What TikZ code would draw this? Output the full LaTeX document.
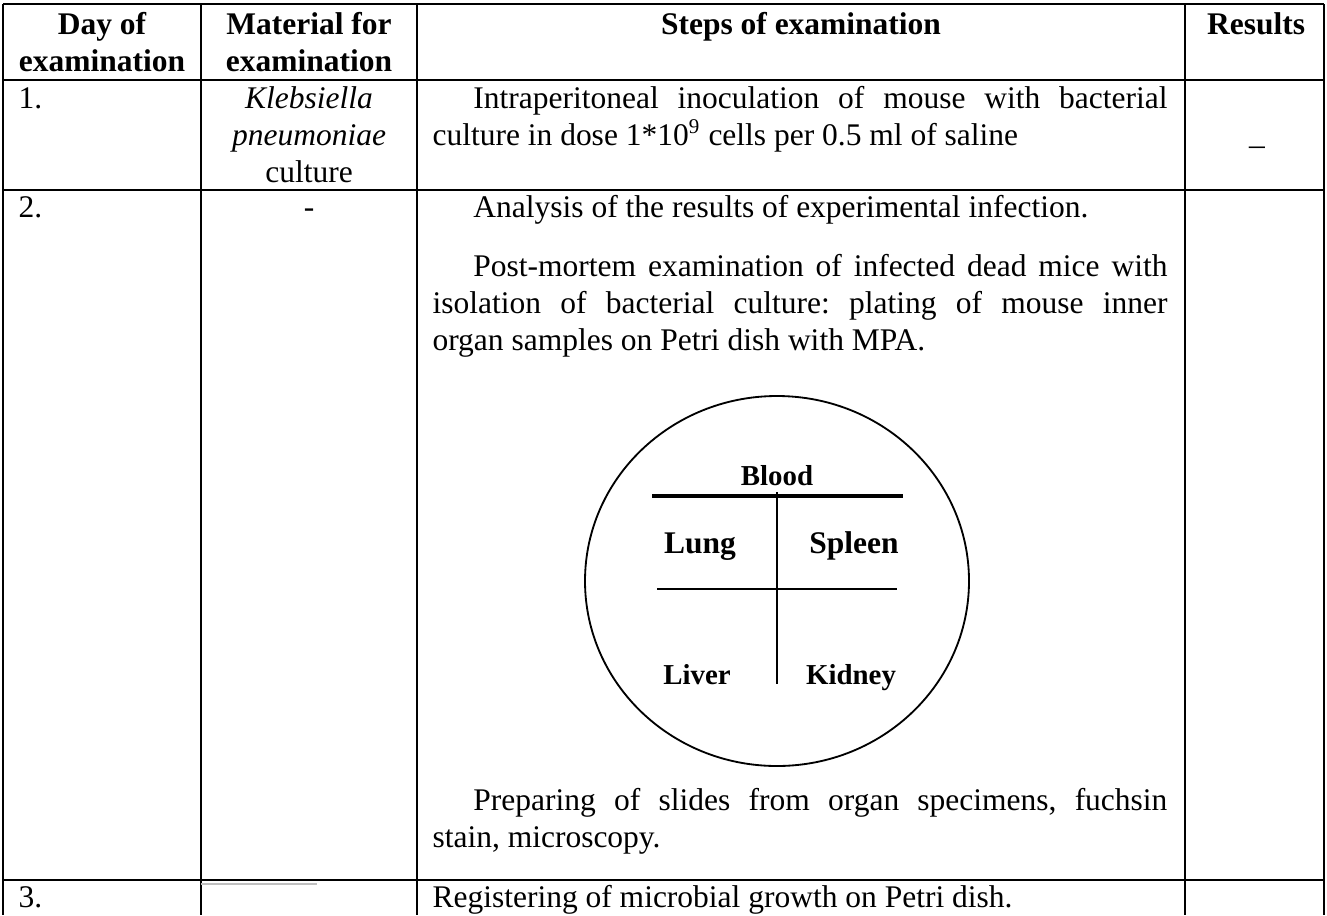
\documentclass[tikz,border=0pt]{standalone}
\usepackage{fontspec}
\setmainfont{Liberation Serif}
\usepackage{tikz}
\usetikzlibrary{positioning}
\newcommand{\pxunit}{0.381pt}
\newcommand{\stepw}{280pt}
\newcommand{\stepin}{\hspace*{15.6pt}}
\newcommand{\cellstack}[1]{\begin{tabular}[t]{@{}c@{}}#1\end{tabular}}
\newcommand{\steppar}[1]{\parbox[t]{\stepw}{#1}}
\tikzset{
    hdrsty/.style={font=\bfseries,anchor=base,inner sep=0pt},
    cellsty/.style={anchor=base,inner sep=0pt},
    numsty/.style={anchor=base west,inner sep=0pt},
    parsty/.style={anchor=base west,inner sep=0pt},
    organsty/.style={font=\bfseries,anchor=base,inner sep=0pt},
    minorgsty/.style={font=\fontsize{11}{13}\selectfont\bfseries,anchor=base,inner sep=0pt},
    rowsty/.style={line width=1pt},
    colsty/.style={line width=0.75pt},
    dishsty/.style={line width=0.7pt},
}
\frenchspacing
\begin{document}
\fontsize{12}{14.1}\selectfont
\begin{tikzpicture}[x=\pxunit,y=-\pxunit]
  \useasboundingbox (0,0) rectangle (1327,915);

  % table grid
  \foreach \yy in {4,80,190,880}
    \draw[rowsty] (3,\yy) -- (1324,\yy);
  \foreach \xx in {3,201,417,1185,1324}
    \draw[colsty] (\xx,4) -- (\xx,915);
  \draw[gray!50,line width=0.6pt] (201,884) -- (317,884);

  % header
  \node[hdrsty] (hday)  at (102,34)  {\cellstack{Day of\\examination}};
  \node[hdrsty] (hmat)  at (309,34)  {\cellstack{Material for\\examination}};
  \node[hdrsty] (hstep) at (801,34)  {Steps of examination};
  \node[hdrsty] (hres)  at (1256,34) {Results};

  % day 1
  \node[numsty]  (d1) at (18,108)   {1.};
  \node[cellsty] (m1) at (309,108)  {\cellstack{\textit{Klebsiella}\\\textit{pneumoniae}\\culture}};
  \node[parsty]  (s1) at (432,108)  {\steppar{\stepin Intraperitoneal inoculation of mouse with bacterial\linebreak culture in dose 1*10\textsuperscript{9} cells per 0.5 ml of saline}};
  \node[cellsty] (r1) at (1257,144) {\_};

  % day 2
  \node[numsty]  (d2)  at (18,217)  {2.};
  \node[cellsty] (m2)  at (309,217) {-};
  \node[parsty]  (s2a) at (432,217) {\steppar{\stepin Analysis of the results of experimental infection.}};
  \node[parsty]  (s2b) at (432,276) {\steppar{\stepin Post-mortem examination of infected dead mice with\linebreak isolation of bacterial culture: plating of mouse inner\linebreak organ samples on Petri dish with MPA.}};
  \node[parsty]  (s2c) at (432,810) {\steppar{\stepin Preparing of slides from organ specimens, fuchsin\linebreak stain, microscopy.}};

  % Petri dish
  \draw[dishsty] (777,581) ellipse [x radius=192,y radius=185];
  \draw[line width=1.2pt] (652,496) -- (903,496);
  \draw[line width=0.6pt] (777,492) -- (777,684);
  \draw[line width=0.5pt] (657,589) -- (897,589);
  \node[minorgsty] (blood)  at (777,485) {Blood};
  \node[organsty]  (lung)   at (700,553) {Lung};
  \node[organsty]  (spleen) at (854,553) {Spleen};
  \node[minorgsty] (liver)  at (697,684) {Liver};
  \node[minorgsty] (kidney) at (851,684) {Kidney};

  % day 3
  \node[numsty] (d3) at (18,907)  {3.};
  \node[parsty] (s3) at (432,907) {Registering of microbial growth on Petri dish.};
\end{tikzpicture}
\end{document}
